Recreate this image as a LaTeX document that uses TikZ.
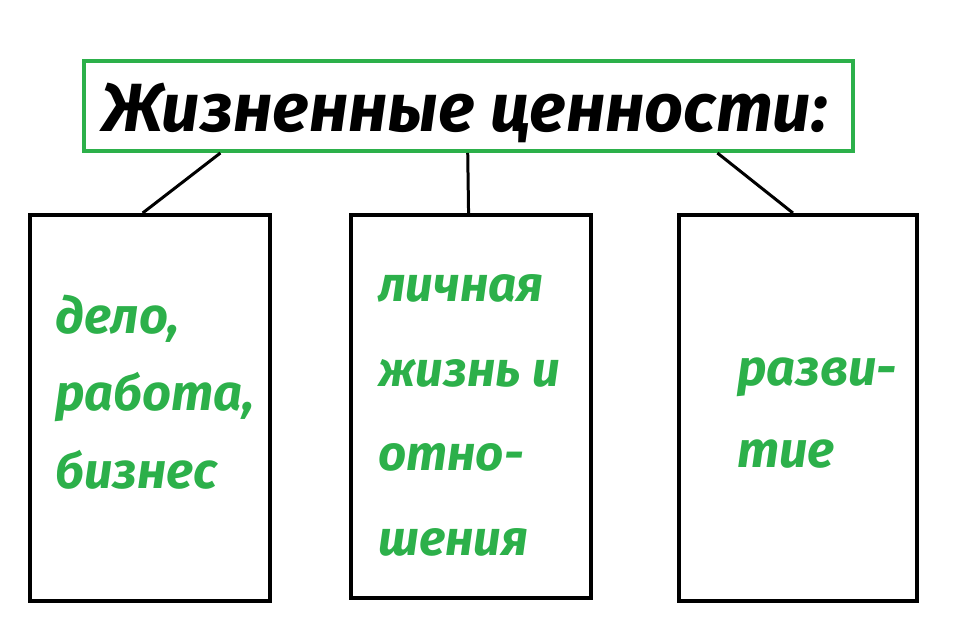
\documentclass[tikz,border=0pt]{standalone}
\usepackage{fontspec}
\setmainfont{Fira Sans}
\usetikzlibrary{calc}
\definecolor{valgreen}{RGB}{44,176,74}
\tikzset{
  titlebox/.style={draw=valgreen,line width=4pt*0.71,minimum width=769*0.025cm,minimum height=90*0.025cm,inner sep=0pt},
  valuebox/.style={draw=black,line width=4pt*0.71,minimum width=240*0.025cm,minimum height=386*0.025cm,inner sep=0pt},
  valuetext/.style={text=valgreen,anchor=base west,align=left,inner sep=0pt},
  link/.style={line width=3pt*0.71}
}
\begin{document}
\begin{tikzpicture}[x=0.025cm,y=-0.025cm,line cap=butt,line join=miter,font=\bfseries\itshape]
			\useasboundingbox (0,0) rectangle (960,642);
			\node[titlebox] (title) at (468.5,106) {};
			\node[anchor=base west,inner sep=0pt,font=\bfseries\itshape\fontsize{48.5}{50}\selectfont] (head) at (102,132) {Жизненные ценности:};
			\node[valuebox] (work) at (150,408) {};
			\node[valuebox,minimum height=383*0.025cm] (life) at (471,406.5) {};
			\node[valuebox,minimum width=238*0.025cm] (grow) at (798,408) {};
			% last line baselines
			\node[valuetext,font=\bfseries\itshape\fontsize{36}{55}\selectfont] (workt) at (55,488) {дело,\\работа,\\бизнес};
			\node[valuetext,font=\bfseries\itshape\fontsize{35}{60}\selectfont] (lifet) at (378,555) {личная\\жизнь и\\отно-\\шения};
			\node[valuetext,font=\bfseries\itshape\fontsize{36}{59}\selectfont] (growt) at (737,468) {разви-\\тие};
			\draw[link] ($(title.south west)!.179!(title.south east)$) -- ($(work.north west)!.47!(work.north east)$);
			\draw[link] ($(title.south west)!.499!(title.south east)$) -- ($(life.north west)!.49!(life.north east)$);
			\draw[link] ($(title.south west)!.822!(title.south east)$) -- ($(grow.north west)!.479!(grow.north east)$);
		\end{tikzpicture}
\end{document}
